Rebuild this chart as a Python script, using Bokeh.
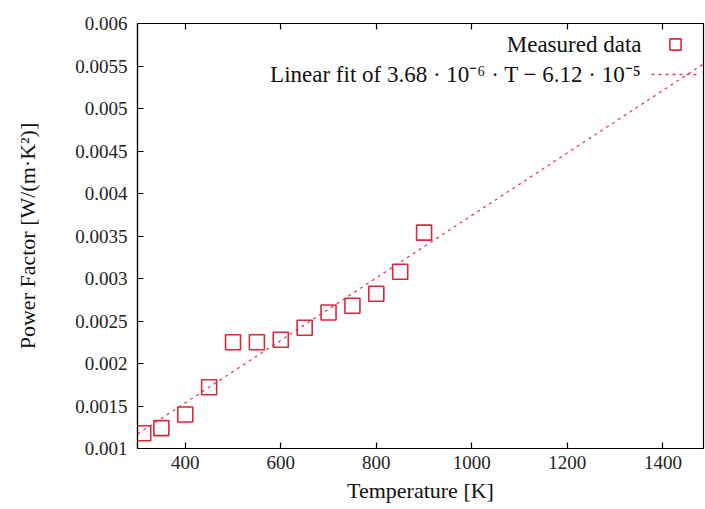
from bokeh.plotting import figure
from bokeh.models import Range1d, FixedTicker, LinearAxis, Legend, LegendItem, Label
from bokeh.embed import file_html
from bokeh.resources import INLINE

# ---- data ----
temperature = [312, 350, 400, 450, 500, 550, 600, 650, 700, 750, 800, 850, 900]
power_factor = [0.00118, 0.00124, 0.00140, 0.00172, 0.00225, 0.00225, 0.00228,
                0.00242, 0.00260, 0.00268, 0.00282, 0.00308, 0.00354]
# fitted line as drawn in the reference (end points)
fit_T = [300, 1500]
fit_values = [0.00117, 0.00558]

x_ticks = [400, 600, 800, 1000, 1200, 1400]
y_ticks = [0.001, 0.0015, 0.002, 0.0025, 0.003, 0.0035, 0.004, 0.0045, 0.005, 0.0055, 0.006]
y_tick_labels = ["0.001", "0.0015", "0.002", "0.0025", "0.003", "0.0035", "0.004",
                 "0.0045", "0.005", "0.0055", "0.006"]

FONT = "Liberation Serif"
RED = "#d42a3c"

p = figure(width=705, height=509, output_backend="svg", toolbar_location=None,
           x_range=Range1d(300, 1485), y_range=Range1d(0.001, 0.006))
p.min_border_left = 137
p.min_border_right = 2
p.min_border_top = 23
p.min_border_bottom = 61
p.grid.visible = False
p.outline_line_color = "black"
p.outline_line_width = 1.2
p.background_fill_color = "white"
p.border_fill_color = "white"

fit_r = p.line(fit_T, fit_values, line_color="#e0405a", line_width=1.3, line_dash="3 4")
pts_r = p.scatter(temperature, power_factor, marker="square", size=15,
                  fill_color=None, line_color=RED, line_width=1.6)

for ax in (p.xaxis[0], p.yaxis[0]):
    ax.major_tick_in = 6
    ax.major_tick_out = 0
    ax.minor_tick_in = 0
    ax.minor_tick_out = 0
    ax.axis_line_width = 1.2
    ax.major_tick_line_width = 1.2
    ax.major_label_text_font = FONT
    ax.major_label_text_font_size = "19px"
    ax.major_label_text_color = "#222222"
    ax.axis_label_text_font = FONT
    ax.axis_label_text_font_size = "22px"
    ax.axis_label_text_font_style = "normal"
    ax.axis_label_text_color = "#111111"

p.xaxis[0].ticker = FixedTicker(ticks=x_ticks)
p.yaxis[0].ticker = FixedTicker(ticks=y_ticks)
p.yaxis[0].major_label_overrides = {t: l for t, l in zip(y_ticks, y_tick_labels)}
p.xaxis[0].axis_label = "Temperature [K]"
p.yaxis[0].axis_label = "Power Factor [W/(m·K²)]"
p.xaxis[0].major_label_standoff = 7
p.xaxis[0].axis_label_standoff = 6
p.yaxis[0].major_label_standoff = 10
p.yaxis[0].axis_label_standoff = 32

top = LinearAxis(ticker=FixedTicker(ticks=x_ticks), major_tick_in=6, major_tick_out=0,
                 minor_tick_in=0, minor_tick_out=0,
                 major_label_overrides={t: "" for t in x_ticks},
                 axis_line_width=1.2, major_tick_line_width=1.2)
p.add_layout(top, "above")

# legend: glyphs on the right, text to their left
legend = Legend(items=[LegendItem(label="", renderers=[pts_r]),
                       LegendItem(label="", renderers=[fit_r])],
                location=(514, 360), padding=0, margin=0, spacing=2,
                glyph_width=48, glyph_height=28, label_standoff=0, label_width=0,
                background_fill_alpha=0, border_line_alpha=0)
p.add_layout(legend)

lbl_kw = dict(x_units="screen", y_units="screen", text_font=FONT,
              text_font_size="23px", text_color="#111111",
              text_align="right", text_baseline="middle")
p.add_layout(Label(x=504, y=404, text="Measured data", **lbl_kw))
p.add_layout(Label(x=504, y=374, text="Linear fit of 3.68 · 10⁻⁶ · T − 6.12 · 10⁻⁵", **lbl_kw))

open("out.html", "w").write(file_html(p, INLINE))
